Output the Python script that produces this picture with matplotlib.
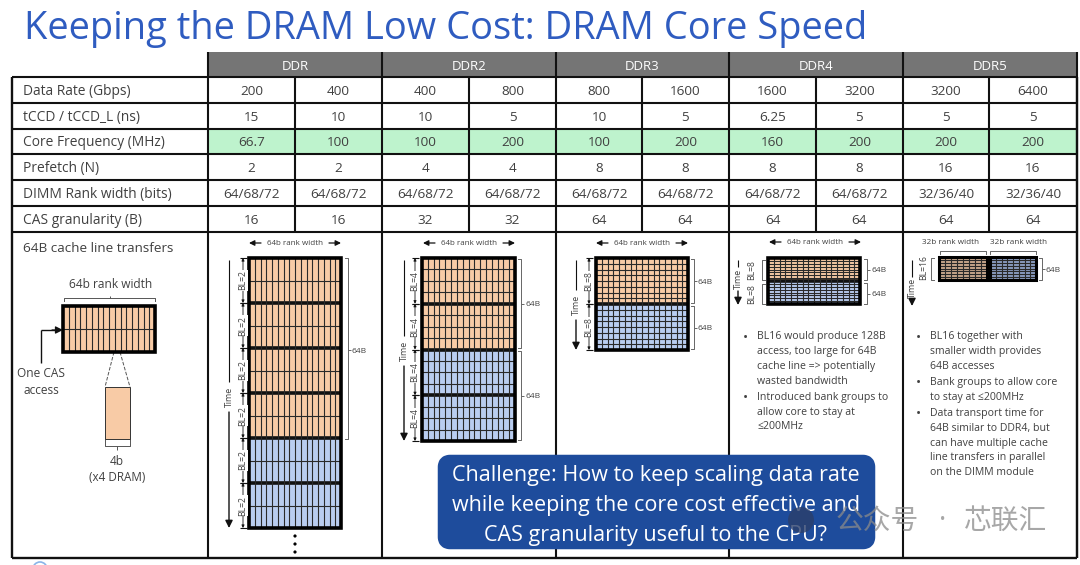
import matplotlib
matplotlib.use("Agg")
import matplotlib.pyplot as plt
from matplotlib.patches import Rectangle, FancyBboxPatch, Circle

plt.rcParams['font.family'] = ['Open Sans', 'Noto Sans CJK SC', 'DejaVu Sans']

title = "Keeping the DRAM Low Cost: DRAM Core Speed"
generations = ["DDR", "DDR2", "DDR3", "DDR4", "DDR5"]
row_labels = ["Data Rate (Gbps)", "tCCD / tCCD_L (ns)", "Core Frequency (MHz)", "Prefetch (N)",
              "DIMM Rank width (bits)", "CAS granularity (B)"]
data_rate = ["200", "400", "400", "800", "800", "1600", "1600", "3200", "3200", "6400"]
tccd = ["15", "10", "10", "5", "10", "5", "6.25", "5", "5", "5"]
core_freq = ["66.7", "100", "100", "200", "100", "200", "160", "200", "200", "200"]
prefetch = ["2", "2", "4", "4", "8", "8", "8", "8", "16", "16"]
rank_width = ["64/68/72"] * 8 + ["32/36/40"] * 2
cas_gran = ["16", "16", "32", "32", "64", "64", "64", "64", "64", "64"]
rows = [data_rate, tccd, core_freq, prefetch, rank_width, cas_gran]
ddr4_notes = ["BL16 would produce 128B\naccess, too large for 64B\ncache line => potentially\nwasted bandwidth",
              "Introduced bank groups to\nallow core to stay at\n≤200MHz"]
ddr5_notes = ["BL16 together with\nsmaller width provides\n64B accesses",
              "Bank groups to allow core\nto stay at ≤200MHz",
              "Data transport time for\n64B similar to DDR4, but\ncan have multiple cache\nline transfers in parallel\non the DIMM module"]
challenge = "Challenge: How to keep scaling data rate\nwhile keeping the core cost effective and\nCAS granularity useful to the CPU?"
watermark_parts = ["公众号", "·", "芯联汇"]

fig = plt.figure(figsize=(10.8, 5.65), dpi=100)
ax = fig.add_axes([0, 0, 1, 1])
ax.set_xlim(0, 1080); ax.set_ylim(565, 0); ax.axis('off')

INK = '#111111'; TXT = '#404040'; ORANGE = '#F8CBA6'; BLUE = '#B9CDF0'
col_x = [208, 295, 382, 469, 556, 642, 729, 816, 903, 989, 1077]
row_y = [77, 103, 129, 154, 180, 206, 232]
left, head_top, bottom = 12, 52, 558

def line(x0, y0, x1, y1, lw=1.0, c=INK, ls='-', z=3):
    ax.plot([x0, x1], [y0, y1], color=c, lw=lw, ls=ls, zorder=z, solid_capstyle='butt')

def txt(x, y, s, size=9.6, c=TXT, ha='center', va='center', **kw):
    dy = 1.5 if va == 'center' and not kw.get('rotation') else 0
    return ax.text(x, y + dy, s, fontsize=size, color=c, ha=ha, va=va, zorder=kw.pop('zorder', 6), **kw)

# Title
txt(24, 27.5, title, size=27.4, c='#2F5CC0', ha='left')

# Header and table
ax.add_patch(Rectangle((208, head_top), 1077 - 208, 25, fc='#757575', ec='none', zorder=1))
for i, g in enumerate(generations):
    txt((col_x[2 * i] + col_x[2 * i + 2]) / 2, 64.5, g, c='white', size=9.5)
ax.add_patch(Rectangle((208, row_y[2]), 1077 - 208, row_y[3] - row_y[2], fc='#BEF3CD', ec='none', zorder=1))

for y in row_y:
    line(left, y, 1077, y, 1.5)
line(left, bottom, 1077, bottom, 1.7)
line(left, 77, left, bottom, 1.7)
line(1077, 77, 1077, bottom, 1.7)
for i in range(0, 11, 2):
    line(col_x[i], head_top, col_x[i], bottom, 1.5)
for i in range(1, 10, 2):
    line(col_x[i], 77, col_x[i], 232, 1.5)

for r, (lab, vals) in enumerate(zip(row_labels, rows)):
    yc = (row_y[r] + row_y[r + 1]) / 2
    txt(23, yc, lab, ha='left', size=9.9)
    for c, v in enumerate(vals):
        txt((col_x[c] + col_x[c + 1]) / 2, yc, v, size=9.7)
txt(23, 247, "64B cache line transfers", ha='left', size=9.7)


def blocks(x0, x1, y0, y1, nblocks, nrows, colors, ncols=16, lw_out=2.6):
    """Grid of burst blocks; colors lists the fill of every block."""
    h = (y1 - y0) / nblocks
    w = (x1 - x0) / ncols
    for b in range(nblocks):
        by = y0 + b * h
        ax.add_patch(Rectangle((x0, by), x1 - x0, h, fc=colors[b], ec='none', zorder=2))
        for r in range(1, nrows):
            line(x0, by + r * h / nrows, x1, by + r * h / nrows, 0.8, c='#2A2A2A')
        if b:
            line(x0, by, x1, by, lw_out)
    for c in range(1, ncols):
        line(x0 + c * w, y0, x0 + c * w, y1, 0.8, c='#2A2A2A')
    ax.add_patch(Rectangle((x0, y0), x1 - x0, y1 - y0, fc='none', ec='#000000', lw=lw_out, zorder=4))


def arrow(xa, ya, xb, yb, sz=8, lw=0.9, style='-|>'):
    ax.annotate('', xy=(xa, ya), xytext=(xb, yb),
                arrowprops=dict(arrowstyle=style, color=INK, lw=lw, mutation_scale=sz, shrinkA=0, shrinkB=0), zorder=5)


def width_label(xc, y, s="64b rank width"):
    txt(xc, y, s, size=5.8)
    arrow(xc - 46, y + 1, xc - 34, y + 1)
    arrow(xc + 46, y + 1, xc + 34, y + 1)


def time_arrow(x, y0, y1, ym, gap=15):
    line(x, y0, x, ym - gap, 0.8)
    txt(x, ym, "Time", size=6.3, rotation=90)
    arrow(x, y1, x, ym + gap, sz=11, lw=1.0)


def bl_marks(x, y0, y1, n, s):
    h = (y1 - y0) / n
    for b in range(n):
        a, e = y0 + b * h, y0 + (b + 1) * h
        line(x - 3.5, a, x + 3.5, a, 0.8)
        line(x - 3.5, e, x + 3.5, e, 0.8)
        m = (a + e) / 2
        arrow(x, a, x, m - 10, sz=4, lw=0.6)
        arrow(x, e, x, m + 10, sz=4, lw=0.6)
        ax.text(x, m, s, fontsize=6.2, color=TXT, rotation=90, ha='center', va='center', zorder=6,
                bbox=dict(fc='white', ec='none', pad=0.3))


def rbrace(x, y0, y1, label=None):
    ax.plot([x, x + 3, x + 3, x], [y0, y0, y1, y1], color='#666666', lw=0.7, zorder=3)
    line(x + 3, (y0 + y1) / 2, x + 6, (y0 + y1) / 2, 0.7, c='#666666')
    if label:
        txt(x + 7, (y0 + y1) / 2, label, size=6.0, ha='left')


# Left explanation
txt(111, 283, "64b rank width", size=8.6)
ax.plot([64, 64, 155, 155], [301, 298, 298, 301], color='#555555', lw=0.7)
line(110, 298, 110, 296, 0.7, c='#555555')
blocks(63, 155, 306, 352, 1, 2, [ORANGE])
line(41, 330, 41, 363, 1.0)
line(41, 330, 56, 330, 1.0)
arrow(63, 330, 52, 330, sz=11, lw=0.9)
txt(41, 372, "One CAS", size=8.6)
txt(41, 389, "access", size=8.6)
ax.add_patch(Rectangle((105, 387), 25, 52, fc=ORANGE, ec='#333333', lw=0.7, zorder=3))
line(114, 352, 105, 387, 0.7, ls='--', c='#555555')
line(120, 352, 130, 387, 0.7, ls='--', c='#555555')
ax.plot([105, 105, 130, 130], [439, 446, 446, 439], color='#555555', lw=0.7, zorder=2)
line(117, 446, 117, 450, 0.7, c='#555555')
txt(117, 460, "4b", size=8.6)
txt(117, 476, "(x4 DRAM)", size=8.4)

# DDR
width_label(295, 242)
blocks(249, 341, 258, 528, 6, 2, [ORANGE] * 4 + [BLUE] * 2)
bl_marks(243, 258, 528, 6, "BL=2")
time_arrow(229, 260, 528, 397)
ax.plot([345, 348, 348, 345], [258, 258, 439, 439], color='#666666', lw=0.7, zorder=3)
line(348, 350, 351, 350, 0.7, c='#666666')
txt(352, 350, "64B", size=6.0, ha='left')
for y in (536, 544, 552):
    ax.add_patch(Circle((295, y), 1.6, fc='black', ec='none', zorder=5))

# DDR2
width_label(469, 242)
blocks(422, 515, 258, 441, 4, 4, [ORANGE] * 2 + [BLUE] * 2)
bl_marks(415, 258, 441, 4, "BL=4")
time_arrow(404, 260, 441, 351)
rbrace(518, 259, 348, "64B")
rbrace(518, 351, 440, "64B")

# DDR3
width_label(642, 242)
blocks(596, 688, 258, 350, 2, 8, [ORANGE, BLUE])
bl_marks(589, 258, 350, 2, "BL=8")
time_arrow(576, 260, 350, 305)
rbrace(691, 259, 303, "64B")
rbrace(691, 306, 349, "64B")

# DDR4
width_label(815, 241)
blocks(768, 860, 258, 304, 2, 8, [ORANGE, BLUE])
time_arrow(738, 260, 305, 279, gap=12)
txt(752, 270, "BL=8", size=6.2, rotation=90)
txt(752, 294, "BL=8", size=6.2, rotation=90)
ax.plot([765, 762, 762, 765], [260, 260, 280, 280], color='#666666', lw=0.7)
ax.plot([765, 762, 762, 765], [284, 284, 304, 304], color='#666666', lw=0.7)
rbrace(864, 259, 280, "64B")
rbrace(864, 283, 304, "64B")

# DDR5
txt(951, 241, "32b rank width", size=5.9)
txt(1019, 241, "32b rank width", size=5.9)
ax.plot([940, 940, 986, 986], [254, 251, 251, 254], color='#666666', lw=0.7)
ax.plot([990, 990, 1036, 1036], [254, 251, 251, 254], color='#666666', lw=0.7)
blocks(939, 987, 257, 280, 1, 8, ['#C8A78C'], ncols=8, lw_out=2.2)
blocks(990, 1036, 257, 280, 1, 8, ['#8A9CC0'], ncols=8, lw_out=2.2)
time_arrow(912, 260, 306, 288, gap=11)
txt(924, 268, "BL=16", size=6.2, rotation=90)
ax.plot([934, 931, 931, 934], [258, 258, 280, 280], color='#666666', lw=0.7)
rbrace(1039, 258, 280, "64B")


def bullets(x, y, notes, indent, lh=14.7, gap=1.7):
    for n in notes:
        txt(x, y - 1, "•", size=10, va='top')
        for ln in n.split("\n"):
            txt(x + indent, y, ln, size=7.6, ha='left', va='top')
            y += lh
        y += gap


bullets(745, 331.5, ddr4_notes, 12)
bullets(918, 331.5, ddr5_notes, 12)

# Challenge box
ax.add_patch(FancyBboxPatch((444, 461), 425, 82, boxstyle="round,pad=0,rounding_size=6", mutation_aspect=1,
                            fc='#1E4C9C', ec='#1E4C9C', lw=9, zorder=7, joinstyle='round'))
for i, ln in enumerate(challenge.split("\n")):
    txt(656, 474.5 + i * 30, ln, size=15.5, c='white', zorder=8)

# Watermark
ax.add_patch(Circle((801, 520), 13, fc='#2B3F6B', ec='none', alpha=0.8, zorder=9))
txt(836, 520, watermark_parts[0], size=20, c='#8A8A8A', ha='left', alpha=0.75, zorder=9)
txt(943, 520, watermark_parts[1], size=20, c='#8A8A8A', alpha=0.75, zorder=9)
txt(1047, 520, watermark_parts[2], size=20, c='#8A8A8A', ha='right', alpha=0.75, zorder=9)

# Cut-off mark under the table
ax.add_patch(Circle((40, 569), 7, fc='none', ec='#8AB4E8', lw=1.2, zorder=2))

fig.savefig("out.png", dpi=100)
